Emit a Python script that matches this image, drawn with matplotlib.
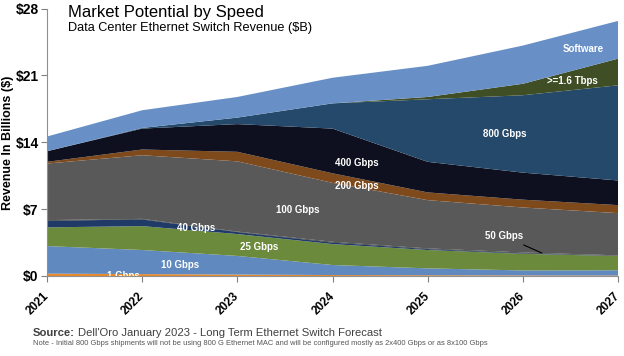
import matplotlib
matplotlib.use('Agg')
import numpy as np
import matplotlib.pyplot as plt

plt.rcParams['font.family'] = ['Liberation Sans', 'DejaVu Sans']

years = [2021, 2022, 2023, 2024, 2025, 2026, 2027]

# revenue by speed, $B (bottom layer first)
gbps_1 = [0.25, 0.20, 0.15, 0.10, 0.08, 0.06, 0.05]
gbps_10 = [2.88, 2.52, 1.95, 1.05, 0.72, 0.52, 0.55]
gbps_25 = [1.96, 2.50, 2.29, 2.19, 1.92, 1.74, 1.49]
gbps_40 = [0.69, 0.70, 0.21, 0.16, 0.10, 0.06, 0.03]
gbps_50 = [0.07, 0.06, 0.05, 0.08, 0.07, 0.08, 0.04]
gbps_100 = [5.92, 6.66, 7.35, 6.17, 5.05, 4.71, 4.42]
gbps_200 = [0.18, 0.60, 1.00, 1.00, 0.81, 0.82, 0.84]
gbps_400 = [1.11, 2.19, 2.90, 4.68, 3.20, 2.83, 2.58]
gbps_800 = [0.00, 0.07, 0.68, 2.64, 6.55, 8.10, 9.96]
tbps_16 = [0.00, 0.00, 0.00, 0.00, 0.24, 1.20, 2.79]
software = [1.54, 1.85, 2.16, 2.68, 3.26, 4.00, 3.95]

layers = [gbps_1, gbps_10, gbps_25, gbps_40, gbps_50, gbps_100,
          gbps_200, gbps_400, gbps_800, tbps_16, software]
colors = ['#E8892B', '#5F89BF', '#6C8A3C', '#1F3A66', '#2A2A2A', '#595959',
          '#7E4A1C', '#0E0F1F', '#25496B', '#3F4E24', '#6890C6']

yticks = [0, 7, 14, 21, 28]
ytick_labels = ['$0', '$7', '$14', '$21', '$28']

fig = plt.figure(figsize=(6.24, 3.56), dpi=100)
ax = fig.add_axes([47/624, 1-276/356, (618-47)/624, (276-8.5)/356])

ax.stackplot(years, layers, colors=colors, lw=0)

ax.set_xlim(2021, 2027)
ax.set_ylim(0, 28)
ax.set_yticks(yticks)
ax.set_yticklabels(ytick_labels, fontsize=10, fontweight='bold')
ax.set_xticks(years)
ax.set_xticklabels([str(y) for y in years], fontsize=8.5, fontweight='bold',
                   rotation=45, ha='right', va='center', rotation_mode='anchor')
ax.tick_params(axis='x', length=4, pad=9, color='#808080')
ax.tick_params(axis='y', length=4, pad=2, color='#808080')
for s in ['top', 'right']:
    ax.spines[s].set_visible(False)
for s in ['left', 'bottom']:
    ax.spines[s].set_color('#909090')
    ax.spines[s].set_linewidth(0.8)

# in-area labels
lab = dict(color='white', fontsize=7, fontweight='bold', ha='center', va='center', clip_on=True)
ax.text(2026.64, 23.73, 'Software', **lab)
ax.text(2026.52, 20.39, '>=1.6 Tbps', **lab)
ax.text(2025.81, 14.85, '800 Gbps', **lab)
ax.text(2024.26, 11.81, '400 Gbps', **lab)
ax.text(2024.26, 9.41, '200 Gbps', **lab)
ax.text(2023.63, 6.90, '100 Gbps', **lab)
ax.text(2022.57, 5.02, '40 Gbps', **lab)
ax.text(2023.23, 3.03, '25 Gbps', **lab)
ax.text(2022.40, 1.15, '10 Gbps', **lab)
ax.text(2021.80, 0.05, '1 Gbps', **lab)

top50 = np.sum(layers[:5], axis=0)
ax.annotate('50 Gbps', xy=(2026.2, np.interp(2026.2, years, top50)),
            xytext=(2025.80, 4.18), color='white', fontsize=7, fontweight='bold',
            ha='center', va='center',
            arrowprops=dict(arrowstyle='-', color='black', lw=0.8,
                            shrinkA=2, shrinkB=0))

fig.text(8/624, 1-143/356, 'Revenue In Billions ($)', rotation=90, fontsize=9,
         fontweight='bold', ha='center', va='center')
fig.text(68/624, 1-12/356, 'Market Potential by Speed', fontsize=12, va='center')
fig.text(68/624, 1-28.5/356, 'Data Center Ethernet Switch Revenue ($B)', fontsize=9.2, va='center')

src = fig.text(33/624, 1-332.5/356, 'Source:', fontsize=8.1, fontweight='bold',
               color='#404040', va='center')
r = fig.canvas.get_renderer()
bb = src.get_window_extent(r)
fig.text(bb.x1/624 + 2.5/624, 1-332.5/356, "Dell'Oro January 2023 - Long Term Ethernet Switch Forecast",
         fontsize=8.1, color='#404040', va='center')
fig.text(33/624, 1-343.5/356,
         'Note - Initial 800 Gbps shipments will not be using 800 G Ethernet MAC and will be configured mostly as 2x400 Gbps or as 8x100 Gbps',
         fontsize=5.4, color='#555555', va='center')

fig.savefig('out.png', dpi=100)
